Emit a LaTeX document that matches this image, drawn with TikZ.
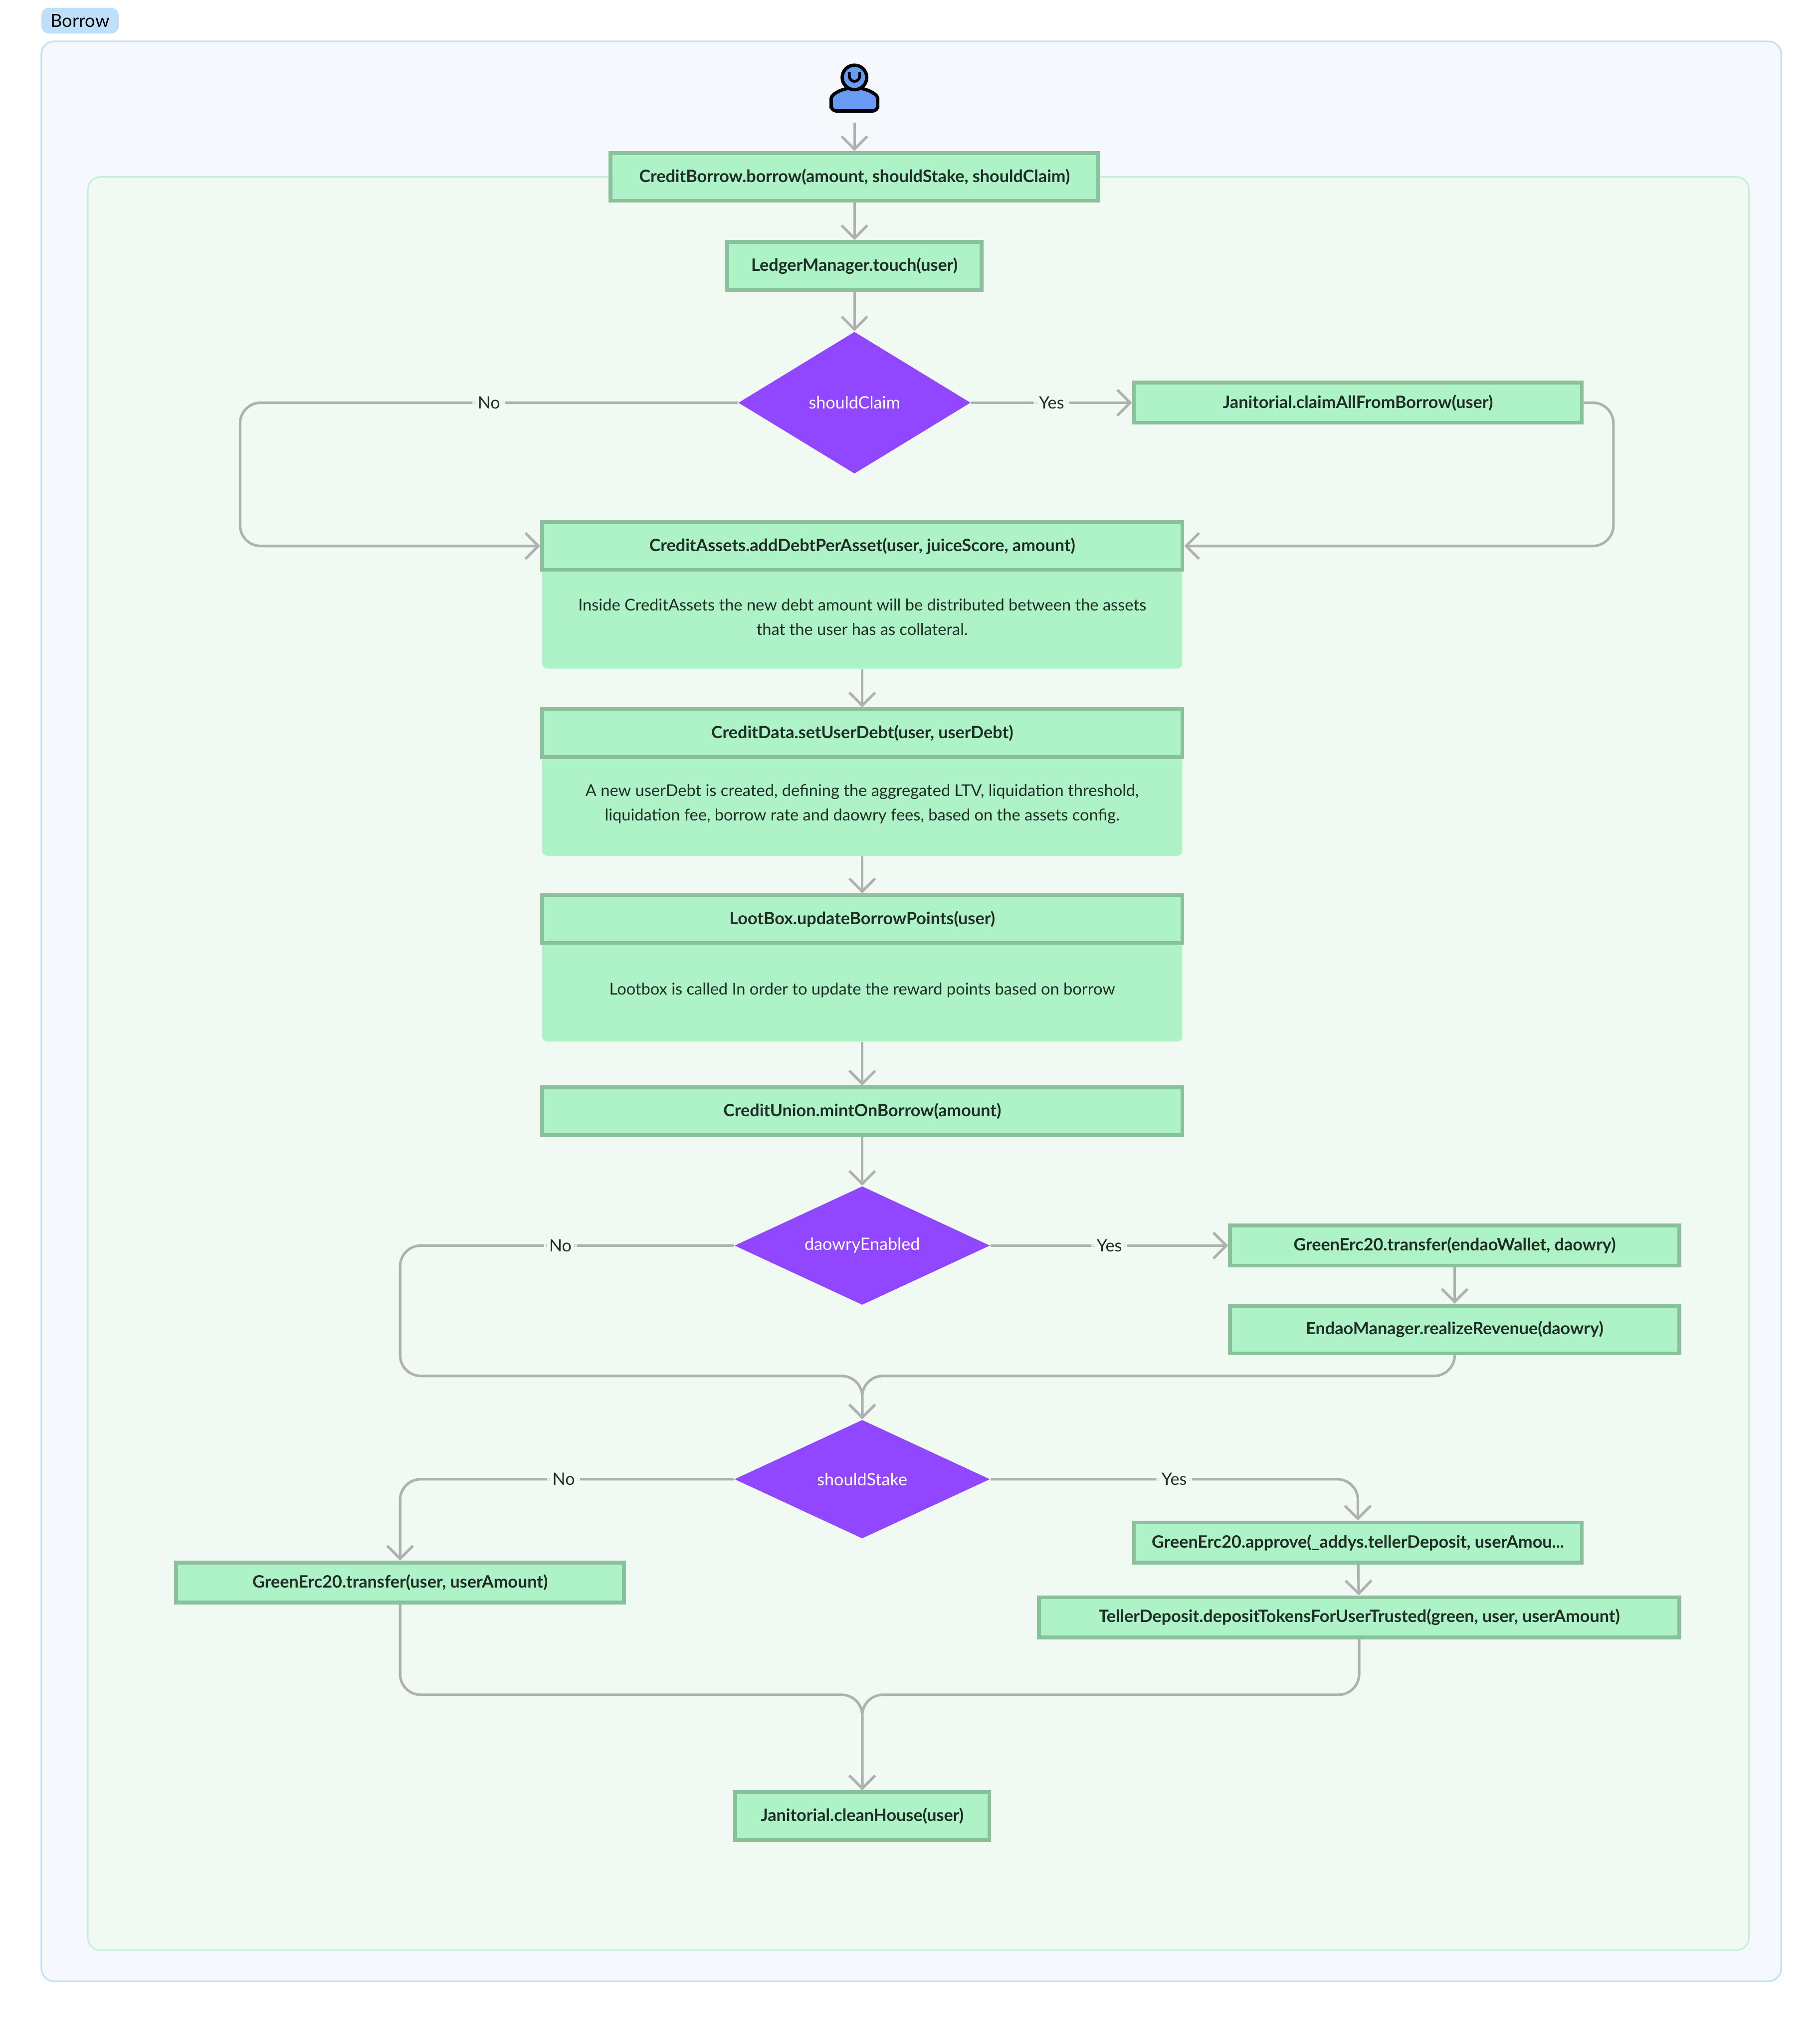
\documentclass[tikz,border=0pt]{standalone}
\usepackage{fontspec}
\setmainfont{Lato}
\usetikzlibrary{arrows.meta,shapes.geometric}
\definecolor{boxfill}{HTML}{AEF3C8}
\definecolor{boxline}{HTML}{8BC09C}
\definecolor{boxtext}{HTML}{1F2D24}
\definecolor{decfill}{HTML}{9146FF}
\definecolor{flow}{HTML}{B0B0B0}
\definecolor{outerfill}{HTML}{F5F9FD}
\definecolor{outerline}{HTML}{BFE0FA}
\definecolor{innerfill}{HTML}{F0FAF3}
\definecolor{innerline}{HTML}{C8EEDB}
\definecolor{person}{HTML}{6A9BF4}
\begin{document}
\begin{tikzpicture}[x=0.5pt,y=-0.5pt]
    \tikzset{stage/.style = {shape=rectangle, draw=boxline, fill=boxfill, line width=1.5pt, text=boxtext, font=\fontsize{6.6}{8}\selectfont\bfseries, inner sep=0pt}}
    \tikzset{note/.style = {shape=rectangle, fill=boxfill, text=boxtext, font=\fontsize{6.3}{9.5}\selectfont, align=center, rounded corners=2pt, inner sep=0pt, minimum width=248pt, minimum height=40pt}}
    \tikzset{decision/.style = {shape=diamond, fill=decfill, text=white, font=\fontsize{6.6}{8}\selectfont, inner sep=0pt, aspect=1.8}}
    \tikzset{flow/.style = {draw=flow, line width=1pt, rounded corners=8pt, -{Straight Barb[length=5pt,width=10pt,line width=1pt]}}}
    \tikzset{lbl/.style = {fill=innerfill, text=boxtext, font=\fontsize{6.6}{8}\selectfont, inner sep=2pt}}

    \useasboundingbox (0,0) rectangle (1410,1565);

    % frames
    \draw[outerline, fill=outerfill, rounded corners=5pt, line width=0.6pt] (32,32) rectangle (1380,1535);
    \draw[innerline, fill=innerfill, rounded corners=5pt, line width=0.6pt] (68,137) rectangle (1355,1511);
    \node[fill=outerline, rounded corners=3pt, font=\fontsize{7}{8}\selectfont, minimum width=30pt, minimum height=10pt, inner sep=0pt] (tag) at (62,16) {Borrow};

    % user
    \draw[black, fill=person, line width=1.3pt, rounded corners=2pt] (644,86) -- (644,80) arc[start angle=180, end angle=0, x radius=18, y radius=-12] -- (680,86) -- cycle;
    \draw[black, fill=person, line width=1.3pt] (662,60) circle[radius=9.5];
    \draw[black, line width=1.1pt] (658,56) -- (658,59) arc[start angle=180, end angle=0, radius=4] -- (666,56);
    \coordinate (user) at (662,95);

    % stages
    \node[stage, minimum width=189pt, minimum height=18.5pt] (borrow) at (662,137) {CreditBorrow.borrow(amount, shouldStake, shouldClaim)};
    \node[stage, minimum width=98.5pt, minimum height=18.5pt] (touch) at (662,206) {LedgerManager.touch(user)};
    \node[decision, minimum width=90pt, minimum height=55pt] (claim) at (662,312) {shouldClaim};
    \node[stage, minimum width=173.5pt, minimum height=15.5pt] (janclaim) at (1052,312) {Janitorial.claimAllFromBorrow(user)};

    \node[note] (assetsnote) at (668,478) {Inside CreditAssets the new debt amount will be distributed between the assets\\that the user has as collateral.};
    \node[stage, minimum width=248pt, minimum height=18.5pt] (assets) at (668,423) {CreditAssets.addDebtPerAsset(user, juiceScore, amount)};
    \node[note] (datanote) at (668,623) {A new userDebt is created, defining the aggregated LTV, liquidation threshold,\\liquidation fee, borrow rate and daowry fees, based on the assets config.};
    \node[stage, minimum width=248pt, minimum height=18.5pt] (data) at (668,568) {CreditData.setUserDebt(user, userDebt)};
    \node[note] (lootnote) at (668,767) {Lootbox is called In order to update the reward points based on borrow};
    \node[stage, minimum width=248pt, minimum height=18.5pt] (loot) at (668,712) {LootBox.updateBorrowPoints(user)};
    \node[stage, minimum width=248pt, minimum height=18.5pt] (mint) at (668,861) {CreditUnion.mintOnBorrow(amount)};

    \node[decision, minimum width=99pt, minimum height=46pt] (daowry) at (668,965) {daowryEnabled};
    \node[stage, minimum width=174pt, minimum height=15.5pt] (endaopay) at (1127,965) {GreenErc20.transfer(endaoWallet, daowry)};
    \node[stage, minimum width=174pt, minimum height=18.5pt] (revenue) at (1127,1030) {EndaoManager.realizeRevenue(daowry)};

    \node[decision, minimum width=99pt, minimum height=46pt] (stake) at (668,1146) {shouldStake};
    \node[stage, minimum width=173.5pt, minimum height=15.5pt] (payuser) at (310,1226) {GreenErc20.transfer(user, userAmount)};
    \node[stage, minimum width=173.5pt, minimum height=15.5pt] (approve) at (1052,1195) {GreenErc20.approve(\_addys.tellerDeposit, userAmou...};
    \node[stage, minimum width=248pt, minimum height=15.5pt] (teller) at (1053,1253) {TellerDeposit.depositTokensForUserTrusted(green, user, userAmount)};
    \node[stage, minimum width=98.5pt, minimum height=18.5pt] (clean) at (668,1407) {Janitorial.cleanHouse(user)};

    % edges
    \draw[flow] (user) -- (borrow);
    \draw[flow] (borrow) -- (touch);
    \draw[flow] (touch) -- (claim);
    \draw[flow] (claim.west) -- node[lbl, pos=0.5]{No} (186,312) -- (186,423) -- (assets.west);
    \draw[flow] (claim.east) -- node[lbl]{Yes} (janclaim.west);
    \draw[flow] (janclaim.east) -- (1250,312) -- (1250,423) -- (assets.east);
    \draw[flow] (assetsnote) -- (data);
    \draw[flow] (datanote) -- (loot);
    \draw[flow] (lootnote) -- (mint);
    \draw[flow] (mint) -- (daowry);
    \draw[flow] (daowry.east) -- node[lbl]{Yes} (endaopay.west);
    \draw[flow] (endaopay) -- (revenue);
    \draw[flow] (daowry.west) -- node[lbl, pos=0.52]{No} (310,965) -- (310,1066) -- (668,1066) -- (stake.north);
    \draw[flow] (revenue.south) -- (1127,1066) -- (668,1066) -- (stake.north);
    \draw[flow] (stake.west) -- node[lbl, pos=0.51]{No} (310,1146) -- (payuser.north);
    \draw[flow] (stake.east) -- node[lbl, pos=0.5]{Yes} (1052,1146) -- (approve.north);
    \draw[flow] (approve) -- (teller);
    \draw[flow] (payuser.south) -- (310,1313) -- (668,1313) -- (clean.north);
    \draw[flow] (teller.south) -- (1053,1313) -- (668,1313) -- (clean.north);
\end{tikzpicture}
\end{document}
